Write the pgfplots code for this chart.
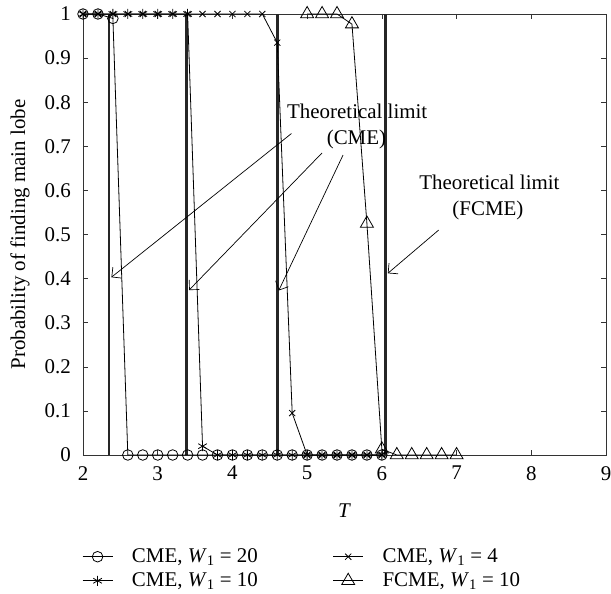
\documentclass[border=0pt]{standalone}
\usepackage{fontspec}
\setmainfont{Liberation Serif}
\usepackage{pgfplots}
\pgfplotsset{compat=1.18}
\usetikzlibrary{arrows.meta}

\begin{document}
\fontsize{21}{24}\selectfont
\begin{tikzpicture}[font=\fontsize{21}{24}\selectfont]
\begin{axis}[
  scale only axis, width=523bp, height=441bp,
  xmin=2, xmax=9, ymin=0, ymax=1,
  xtick={2,3,4,5,6,7,8,9},
  ytick={0,0.1,0.2,0.3,0.4,0.5,0.6,0.7,0.8,0.9,1},
  tick align=inside, major tick length=5bp,
  tick style={black!80, line width=0.6bp},
  axis line style={black!80, line width=0.6bp},
  /pgf/number format/assume math mode=true,
  ticklabel style={font=\fontsize{21}{24}\selectfont},
  yticklabel style={xshift=-5bp},
  xticklabel style={yshift=-4bp},
  xlabel={\textit{T}},
  xlabel style={at={(rel axis cs:0.5,0)}, anchor=center, yshift=-56bp},
  ylabel={Probability of finding main lobe},
  ylabel style={at={(rel axis cs:0,0.5)}, anchor=center, yshift=63bp},
  clip=false,
  legend columns=2,
  legend cell align=left,
  legend style={draw=none, fill=none, at={(rel axis cs:0,0)}, anchor=north west,
    xshift=-4bp, yshift=-90bp, row sep=5bp, nodes={inner sep=1bp},
    /tikz/every odd column/.append style={column sep=18bp},
    /tikz/every even column/.append style={column sep=74bp}},
  legend image code/.code={\draw[mark repeat=2,mark phase=2] plot coordinates {(0bp,0bp)(15bp,0bp)(30bp,0bp)};},
  every axis plot/.append style={line width=0.8bp, black},
]
% theoretical limits
\addplot[forget plot, line width=2.6bp, black!85] coordinates {(2.35,0)(2.35,1)};
\addplot[forget plot, line width=2.6bp, black!85] coordinates {(3.385,0)(3.385,1)};
\addplot[forget plot, line width=2.6bp, black!85] coordinates {(4.6,0)(4.6,1)};
\addplot[forget plot, line width=2.6bp, black!85] coordinates {(6.05,0)(6.05,1)};

% CME W1=20
\addplot[mark=o, mark size=5.3bp] coordinates {
(2.0,1)(2.2,1)(2.4,0.99)(2.6,0)(2.8,0)(3.0,0)(3.2,0)(3.4,0)(3.6,0)(3.8,0)(4.0,0)
(4.2,0)(4.4,0)(4.6,0)(4.8,0)(5.0,0)(5.2,0)(5.4,0)(5.6,0)(5.8,0)(6.0,0)};
\addlegendentry{CME, \textit{W}\textsubscript{1} = 20}
% CME W1=4
\addplot[mark=x, mark size=4.3bp] coordinates {
(2.0,1)(2.2,1)(2.4,1)(2.6,1)(2.8,1)(3.0,1)(3.2,1)(3.4,1)(3.6,1)(3.8,1)(4.0,1)
(4.2,1)(4.4,1)(4.6,0.935)(4.8,0.095)(5.0,0)(5.2,0)(5.4,0)(5.6,0)(5.8,0)(6.0,0)};
\addlegendentry{CME, \textit{W}\textsubscript{1} = 4}
% CME W1=10
\addplot[mark=asterisk, mark size=5bp] coordinates {
(2.0,1)(2.2,1)(2.4,1)(2.6,1)(2.8,1)(3.0,1)(3.2,1)(3.4,1)(3.6,0.02)(3.8,0)(4.0,0)
(4.2,0)(4.4,0)(4.6,0)(4.8,0)(5.0,0)(5.2,0)(5.4,0)(5.6,0)(5.8,0)(6.0,0)};
\addlegendentry{CME, \textit{W}\textsubscript{1} = 10}
% FCME W1=10
\addplot[mark=triangle, mark size=7.5bp] coordinates {
(5.0,1)(5.2,1)(5.4,1)(5.6,0.977)(5.8,0.525)(6.0,0.013)(6.2,0)(6.4,0)(6.6,0)(6.8,0)(7.0,0)};
\addlegendentry{FCME, \textit{W}\textsubscript{1} = 10}

% annotations
\node at (axis cs:5.67,0.78) {Theoretical limit};
\node at (axis cs:5.66,0.715) {(CME)};
\node at (axis cs:7.44,0.619) {Theoretical limit};
\node at (axis cs:7.42,0.555) {(FCME)};
\draw[line width=0.7bp, -{Straight Barb[length=7bp,width=14bp]}] (axis cs:4.79,0.729) -- (axis cs:2.38,0.403);
\draw[line width=0.7bp, -{Straight Barb[length=7bp,width=14bp]}] (axis cs:5.20,0.685) -- (axis cs:3.42,0.374);
\draw[line width=0.7bp, -{Straight Barb[length=7bp,width=14bp]}] (axis cs:5.48,0.680) -- (axis cs:4.62,0.373);
\draw[line width=0.7bp, -{Straight Barb[length=7bp,width=14bp]}] (axis cs:6.76,0.510) -- (axis cs:6.08,0.412);

\coordinate (bl) at (rel axis cs:0,0);
\coordinate (tr) at (rel axis cs:1,1);
\end{axis}
\pgfresetboundingbox
\path ([shift={(-83bp,-139bp)}]bl) rectangle ([shift={(5bp,14bp)}]tr);
\end{tikzpicture}
\end{document}
